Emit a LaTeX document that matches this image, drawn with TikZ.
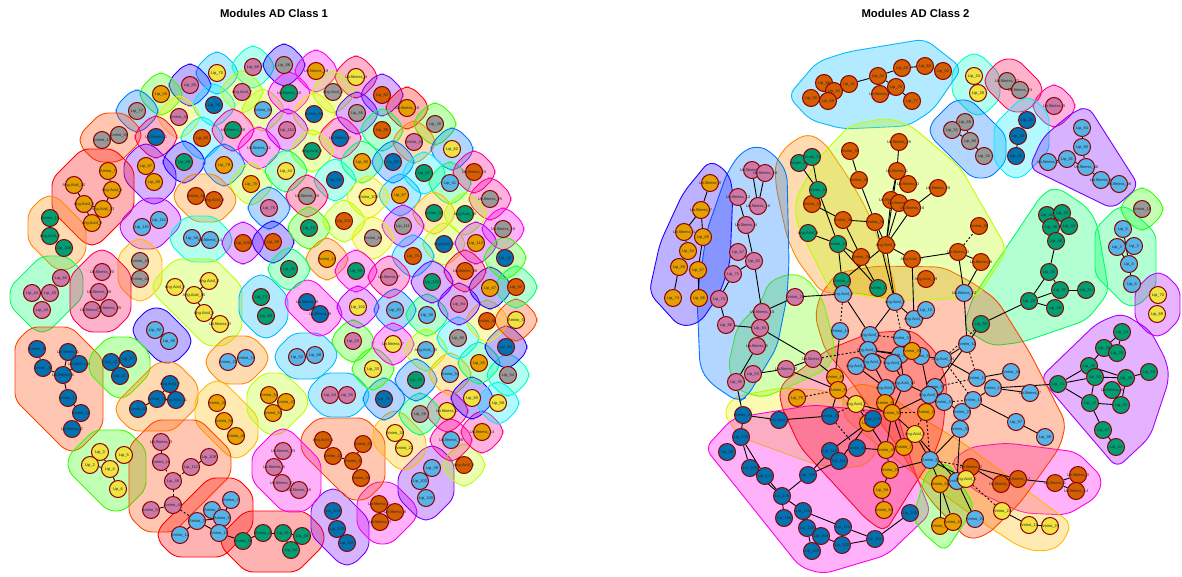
\documentclass[tikz,border=0pt]{standalone}
\usepackage{fontspec}
\setmainfont{Liberation Sans}
\definecolor{vorange}{HTML}{E69F00}
\definecolor{vsky}   {HTML}{56B4E9}
\definecolor{vgreen} {HTML}{009E73}
\definecolor{vyellow}{HTML}{F0E442}
\definecolor{vblue}  {HTML}{0072B2}
\definecolor{vverm}  {HTML}{D55E00}
\definecolor{vpink}  {HTML}{CC79A7}
\definecolor{vgrey}  {HTML}{999999}
\definecolor{vedge}  {HTML}{8B0000}
\definecolor{modred}    {HTML}{FF0000}
\definecolor{modvermil} {HTML}{FF4400}
\definecolor{modorange} {HTML}{FF8800}
\definecolor{modamber}  {HTML}{FFBB00}
\definecolor{modyellow} {HTML}{EEEE00}
\definecolor{modlime}   {HTML}{BBFF00}
\definecolor{modgreen}  {HTML}{33FF00}
\definecolor{modspring} {HTML}{00FF66}
\definecolor{modaqua}   {HTML}{00FFCC}
\definecolor{modcyan}   {HTML}{00EEFF}
\definecolor{modsky}    {HTML}{00BBFF}
\definecolor{modazure}  {HTML}{0077FF}
\definecolor{modblue}   {HTML}{2200FF}
\definecolor{modviolet} {HTML}{7700FF}
\definecolor{modpurple} {HTML}{BB00FF}
\definecolor{modmagenta}{HTML}{FF00EE}
\definecolor{modpink}   {HTML}{FF0099}
\definecolor{modrose}   {HTML}{FF0055}
\pgfdeclarelayer{blobs}
\pgfdeclarelayer{links}
\pgfsetlayers{blobs,links,main}
% nodes only, in one colour
\newcommand{\vertices}[2]{%
  \foreach \nm/\x/\y/\lab in {#2}{%
    \node[vertex,fill=#1] (\nm) at (\x,\y) {\makebox[0pt]{\lab}};
  }%
}
% nodes plus the hull round them
\newcommand{\module}[3]{%
  \xdef\xa{9999}\xdef\xb{-9999}\xdef\ya{9999}\xdef\yb{-9999}%
  \xdef\ua{9999}\xdef\ub{-9999}\xdef\va{9999}\xdef\vb{-9999}%
  \foreach \nm/\x/\y/\lab in {#3}{%
    \node[vertex,fill=#2] (\nm) at (\x,\y) {\makebox[0pt]{\lab}};
    \pgfmathparse{min(\xa,\x)}\xdef\xa{\pgfmathresult}%
    \pgfmathparse{max(\xb,\x)}\xdef\xb{\pgfmathresult}%
    \pgfmathparse{min(\ya,\y)}\xdef\ya{\pgfmathresult}%
    \pgfmathparse{max(\yb,\y)}\xdef\yb{\pgfmathresult}%
    \pgfmathparse{min(\ua,\x+\y)}\xdef\ua{\pgfmathresult}%
    \pgfmathparse{max(\ub,\x+\y)}\xdef\ub{\pgfmathresult}%
    \pgfmathparse{min(\va,\x-\y)}\xdef\va{\pgfmathresult}%
    \pgfmathparse{max(\vb,\x-\y)}\xdef\vb{\pgfmathresult}%
  }%
  \pgfmathsetmacro\hexp{\ub-\ua>0 ? 22 : 21}%
  \pgfmathsetmacro\dexp{\ub-\ua>0 ? 28 : 26}%
  \pgfmathsetmacro\xl{\xa-\hexp}\pgfmathsetmacro\xr{\xb+\hexp}%
  \pgfmathsetmacro\yt{\ya-\hexp}\pgfmathsetmacro\yd{\yb+\hexp}%
  \pgfmathsetmacro\uu{\ua-\dexp}\pgfmathsetmacro\ud{\ub+\dexp}%
  \pgfmathsetmacro\vl{\va-\dexp}\pgfmathsetmacro\vr{\vb+\dexp}%
  \begin{pgfonlayer}{blobs}
    \draw[blob=#1] ({\xl},{\uu-\xl}) -- ({\uu-\yt},{\yt}) -- ({\vr+\yt},{\yt})
      -- ({\xr},{\xr-\vr}) -- ({\xr},{\ud-\xr}) -- ({\ud-\yd},{\yd})
      -- ({\vl+\yd},{\yd}) -- ({\xl},{\xl-\vl}) -- cycle;
  \end{pgfonlayer}%
}
\newcommand{\shape}[2]{%
  \begin{pgfonlayer}{blobs}
    \draw[blob=#1,rounded corners=9pt] #2 -- cycle;
  \end{pgfonlayer}%
}

\begin{document}
\begin{tikzpicture}[
  x=1pt,y=-1pt,
  vertex/.style={circle,draw=vedge,line width=1pt,minimum size=17pt,inner sep=0pt,
    font=\fontsize{4}{4}\selectfont,text=black!85},
  blob/.style={draw=#1,fill=#1,fill opacity=.3,line width=.9pt,rounded corners=7pt},
  link/.style={line width=.9pt,black},
  dlink/.style={line width=.9pt,black,dash pattern=on 2pt off 2pt},
  heading/.style={font=\fontsize{11.3}{13}\selectfont\bfseries}
]
\useasboundingbox (0,0) rectangle (1182,576);

% ---- titles --------------------------------------------------------------
\node[heading] (titleone) at (274,13) {Modules AD Class 1};
\node[heading] (titletwo) at (915.5,13) {Modules AD Class 2};

% ---- class 1: modules ----------------------------------------------------
\module{modsky}{vyellow}{l1/217/73/Lip\_70}
\module{modaqua}{vpink}{l2/253/67/Lip\_68}
\module{modblue}{vpink}{l3/190/85/Lip\_65}
\module{modgreen}{vorange}{l4/161/94/Lip\_26}
\module{modcyan}{vblue}{l5/214/105/Lip\_58}
\module{modlime}{vpink}{l6/242/92/Ang.Acid\_7}
\module{modlime}{vsky}{l7/263/110/Amino\_50}
\module{modazure}{vgrey}{l8/137/111/Lip\_77}
\module{modyellow}{vpink}{l9/179/117/Amino\_41}
\module{modvermil}{vgrey}{l10/119/135/Amino\_65,l11/102/140/Amino\_10}
\module{modrose}{vblue}{l12/156/137/Un.fitness\_1}
\module{modcyan}{vverm}{l13/202/138/Lip\_60}
\module{modpink}{vgreen}{l14/233/130/Un.fitness\_28}
\module{modmagenta}{vsky}{l15/259/148/Un.fitness\_11}
\module{modviolet}{vorange}{l16/146/166/Lip\_87,l17/154/182/Lip\_88}
\module{modblue}{vgreen}{l18/184/162/Lip\_89}
\module{modazure}{vorange}{l19/224/165/Lip\_79}
\module{modlime}{vorange}{l20/251/184/Lip\_78}
\module{modazure}{vpink}{l21/269/208/Lip\_76}
\module{modorange}{vverm}{l22/196/196/Amino\_36,l23/214/200/Ang.Acid\_3}
\module{modred}{vorange}{l24/108/171/Amino\_7,l25/74/185/Ang.Acid\_10,l26/112/190/Ang.Acid\_1,l27/84/204/Ang.Acid\_6,l28/103/209/Ang.Acid\_13,l29/92/223/Ang.Acid\_8}
\module{modorange}{vgreen}{l30/50/218/Amino\_15,l31/50/236/Ang.Acid\_2,l32/64/248/Lip\_106}
\module{modpurple}{vsky}{l33/142/227/Lip\_115,l34/159/220/Lip\_114}
\module{modaqua}{vsky}{l35/192/238/Lip\_56,l36/210/240/Un.fitness\_14}
\module{modpurple}{vverm}{l37/243/243/Lip\_108}
\module{modblue}{vverm}{l38/273/242/Lip\_86}
\module{modamber}{vgrey}{l39/140/261/Amino\_48,l40/140/279/Amino\_42}
\module{modspring}{vpink}{l41/61/278/Lip\_84,l42/32/293/Lip\_44,l43/50/293/Lip\_45,l44/42/310/Lip\_42}
\module{modrose}{vpink}{l45/102/272/Un.fitness\_20,l46/99/292/Un.fitness\_38,l47/92/310/Un.fitness\_30,l48/109/308/Un.fitness\_35}
\module{modlime}{vyellow}{l49/175/287/Ang.Acid\_2,l50/209/281/Ang.Acid\_4,l51/194/295/Ang.Acid\_15,l52/204/313/Ang.Acid\_1,l53/220/324/Un.fitness\_3}
\module{modsky}{vgreen}{l54/261/297/Lip\_73,l55/266/316/Lip\_69}
\module{modblue}{vsky}{l56/155/330/Lip\_92,l57/169/341/Lip\_90}
\module{modorange}{vsky}{l58/228/362/Amino\_20,l59/246/358/Amino\_15}
\module{modvermil}{vblue}{l60/37/349/Amino\_9,l61/43/368/Amino\_26,l62/68/352/Un.fitness\_1,l63/79/364/Un.fitness\_4,l64/63/375/Un.fitness\_6,l65/68/398/Amino\_17,l66/81/413/Amino\_19,l67/72/429/Un.fitness\_2}
\module{modgreen}{vblue}{l68/111/362/Lip\_20,l69/128/359/Lip\_27,l70/120/376/Lip\_21}
\module{modorange}{vblue}{l71/170/384/Ang.Acid\_7,l72/157/399/Amino\_14,l73/176/400/Ang.Acid\_11,l74/138/409/Amino\_43}
\module{modamber}{vorange}{l75/217/403/Amino\_30,l76/224/421/Amino\_56,l77/236/436/Amino\_40}
\module{modlime}{vorange}{l78/269/395/Amino\_53,l79/286/402/Amino\_47,l80/273/413/Amino\_52}
\module{modgreen}{vyellow}{l81/100/452/Lip\_3,l82/124/455/Lip\_5,l83/90/465/Lip\_2,l84/110/469/Lip\_4,l85/118/489/Lip\_6}
\module{modvermil}{vpink}{l86/161/442/Un.fitness\_3,l87/161/462/Amino\_11,l88/209/457/Lip\_109,l89/191/467/Lip\_112,l90/173/481/Lip\_48,l91/173/505/Amino\_40,l92/151/510/Amino\_57}
\module{modred}{vsky}{l93/231/500/Amino\_2,l94/212/510/Amino\_1,l95/222/518/Amino\_9,l96/197/521/Amino\_3,l97/219/533/Amino\_16,l98/180/535/Amino\_12}
\module{modred}{vgreen}{l99/243/541/Amino\_38,l100/263/533/Amino\_4,l101/283/533/Lip\_61,l102/302/536/Lip\_68,l103/291/550/Lip\_62}
\module{modviolet}{vblue}{l104/333/511/Lip\_104,l105/337/529/Lip\_106,l106/347/543/Lip\_107}
\module{modmagenta}{vverm}{l107/379/504/Un.fitness\_1,l108/395/512/Un.fitness\_8,l109/380/522/Un.fitness\_3}
\module{modviolet}{vsky}{l110/432/468/Lip\_99,l111/420/481/Lip\_103,l112/426/498/Lip\_100}
\module{modlime}{vverm}{l113/464/465/Ang.Acid\_6}
\module{modvermil}{vverm}{l114/323/440/Ang.Acid\_1,l115/333/456/Amino\_21,l116/353/461/Amino\_6,l117/363/444/Amino\_63,l118/361/478/Amino\_51}
\module{modamber}{vyellow}{l119/395/433/Amino\_34,l120/404/448/Amino\_22}
\module{modmagenta}{vpink}{l121/283/451/Un.fitness\_33,l122/274/467/Un.fitness\_5,l123/282/483/Un.fitness\_31,l124/299/490/Un.fitness\_16}
\module{modpink}{vsky}{l125/451/440/Un.fitness\_26}
\module{modpink}{vorange}{l126/482/432/Un.fitness\_14}
\module{modpink}{vyellow}{l127/447/411/Un.fitness\_2}
\module{modspring}{vgrey}{l128/420/414/Lip\_56}
\module{modazure}{vblue}{l129/384/399/Lip\_71}
\module{modsky}{vpink}{l130/330/395/Lip\_54,l131/347/395/Lip\_55}
\module{modsky}{vsky}{l132/297/357/Lip\_52,l133/315/355/Lip\_68}
\module{modmagenta}{vblue}{l134/307/302/Un.fitness\_8,l135/320/314/Un.fitness\_9}
\module{modgreen}{vpink}{l136/353/341/Lip\_24}
\module{modgreen}{vyellow}{l137/373/369/Lip\_33}
\module{modpurple}{vyellow}{l138/358/307/Lip\_102}
\module{modazure}{vsky}{l139/395/310/Lip\_83}
\module{modspring}{vsky}{l140/427/315/Lip\_30}
\module{modmagenta}{vyellow}{l141/393/344/Un.fitness\_7}
\module{modlime}{vsky}{l142/426/350/Ang.Acid\_10}
\module{modazure}{vgreen}{l143/416/380/Lip\_81}
\module{modamber}{vsky}{l144/450/374/Amino\_54}
\module{modblue}{vyellow}{l145/472/398/Lip\_60}
\module{modcyan}{vyellow}{l146/498/403/Lip\_58}
\module{modspring}{vorange}{l147/479/363/Lip\_55}
\module{modaqua}{vgrey}{l148/508/375/Lip\_54}
\module{modblue}{vblue}{l149/506/347/Lip\_64}
\module{modcyan}{vgrey}{l150/458/338/Lip\_80}
\module{modyellow}{vverm}{l151/487/321/Amino\_46}
\module{modvermil}{vyellow}{l152/516/320/Amino\_5}
\module{modviolet}{vpink}{l153/459/304/Lip\_84}
\module{modblue}{vorange}{l154/490/288/Lip\_67}
\module{modspring}{vverm}{l155/516/287/Lip\_52}
\module{modblue}{vgrey}{l156/284/65/Lip\_86}
\module{modmagenta}{vorange}{l157/316/71/Un.fitness\_19}
\module{modrose}{vyellow}{l158/356/77/Un.fitness\_4}
\module{modlime}{vgrey}{l159/333/92/Ang.Acid\_1}
\module{modviolet}{vverm}{l160/382/95/Lip\_83}
\module{modred}{vorange}{l161/407/108/Un.fitness\_18}
\module{modmagenta}{vgreen}{l162/289/93/Un.fitness\_10}
\module{modyellow}{vblue}{l163/314/114/Amino\_66}
\module{modviolet}{vgrey}{l164/357/113/Lip\_66}
\module{modspring}{vverm}{l165/382/130/Lip\_95}
\module{modgreen}{vgrey}{l166/435/124/Lip\_28}
\module{modorange}{vpink}{l167/414/142/Amino\_28}
\module{modazure}{vyellow}{l168/452/149/Lip\_62}
\module{modpurple}{vpink}{l169/287/130/Lip\_110}
\module{modpink}{vblue}{l170/340/138/Un.fitness\_2}
\module{modlime}{vgreen}{l171/312/151/Ang.Acid\_2}
\module{modspring}{vorange}{l172/362/162/Lip\_90}
\module{modazure}{vblue}{l173/393/162/Lip\_82}
\module{modspring}{vyellow}{l174/286/171/Lip\_44}
\module{modaqua}{vblue}{l175/335/180/Lip\_56}
\module{modcyan}{vgreen}{l176/424/173/Lip\_57}
\module{modspring}{vsky}{l177/450/183/Lip\_41}
\module{modpink}{vverm}{l178/474/172/Un.fitness\_15}
\module{modrose}{vgrey}{l179/307/196/Un.fitness\_28}
\module{modsky}{vorange}{l180/400/195/Lip\_67}
\module{modyellow}{vyellow}{l181/368/197/Amino\_100}
\module{modpink}{vgrey}{l182/490/199/Un.fitness\_25}
\module{modamber}{vgreen}{l183/434/213/Amino\_34}
\module{modlime}{vgreen}{l184/465/214/Ang.Acid\_10}
\module{modgreen}{vgreen}{l185/309/228/Lip\_18}
\module{modlime}{vverm}{l186/344/221/Lip\_201}
\module{modpurple}{vgrey}{l187/403/226/Lip\_111}
\module{modmagenta}{vgrey}{l188/503/229/Un.fitness\_18}
\module{modyellow}{vgrey}{l189/373/238/Amino\_46}
\module{modlime}{vblue}{l190/444/244/Ang.Acid\_8}
\module{modpurple}{vorange}{l191/476/243/Lip\_112}
\module{modgreen}{vblue}{l192/505/258/Lip\_34}
\module{modorange}{vorange}{l193/327/259/Amino\_14}
\module{modsky}{vverm}{l194/413/256/Lip\_75}
\module{modrose}{vverm}{l195/465/271/Un.fitness\_36}
\module{modmagenta}{vgreen}{l196/356/271/Lip\_98}
\module{modpink}{vpink}{l197/389/277/Un.fitness\_7}
\module{modviolet}{vgreen}{l198/432/282/Lip\_123}
\module{modspring}{vgreen}{l199/289/269/Lip\_65}

% ---- class 1: links ------------------------------------------------------
\begin{pgfonlayer}{links}
\foreach \a/\b in {l25/l27,l27/l29,l27/l28,l24/l26,l26/l28,l28/l29,l60/l61,l61/l64,l62/l64,l63/l64,l64/l65,l65/l66,l66/l67,
  l81/l84,l83/l84,l84/l85,l86/l87,l88/l89,l91/l92,l93/l95,l94/l95,l96/l97,l96/l98,l96/l95,l97/l99,l99/l100,l100/l101,l101/l102,l101/l103,
  l71/l72,l72/l73,l72/l74,l114/l115,l115/l116,l116/l117,l116/l118,l50/l51,l51/l52,l52/l53,l10/l11}
  \draw[link] (\a) -- (\b);
\foreach \a/\b in {l87/l90,l89/l90,l90/l91,l91/l96}
  \draw[dlink] (\a) -- (\b);
\end{pgfonlayer}

% ---- class 2: modules with a hull ----------------------------------------
\module{modaqua}{vyellow}{u7/974/76/Lip\_24,u8/978/93/Lip\_28}
\module{modrose}{vgrey}{y1/1007/81/Un.fitness\_23,y2/1020/90/Un.fitness\_24}
\module{modpink}{vpink}{p19/1054/106/Un.fitness\_9}
\module{modazure}{vgrey}{y3/965/122/Lip\_66,y4/952/130/Lip\_51,y5/970/141/Lip\_86,y6/984/156/Lip\_52}
\module{modcyan}{vblue}{c1/1027/120/Lip\_28,c2/1018/136/Lip\_30,c3/1016/156/Lip\_31}
\module{modgreen}{vgrey}{y7/1142/209/Amino\_18}
\module{modspring}{vsky}{k1/1123/229/Lip\_5,k2/1117/247/Lip\_3,k3/1134/246/Lip\_2,k4/1129/264/Lip\_4,k5/1132/284/Lip\_6}
\module{modpurple}{vyellow}{u9/1158/295/Lip\_70,u10/1157/314/Lip\_69}

% ---- class 2: drawn hulls -------------------------------------------------
\shape{modsky}{(788,96) -- (817,62) -- (847,52) -- (925,39) -- (962,68) -- (933,110) -- (908,126) -- (843,129) -- (810,120)}
\shape{modviolet}{(1088,106) -- (1139,186) -- (1113,209) -- (1029,168) -- (1043,137) -- (1073,112)}
\shape{modspring}{(1057,187) -- (1087,207) -- (1097,223) -- (1109,292) -- (1087,320) -- (1023,342) -- (992,346) -- (963,328) -- (973,297) -- (1043,193)}
\shape{modpurple!70!modviolet}{(1122,313) -- (1150,330) -- (1167,362) -- (1169,380) -- (1150,437) -- (1117,468) -- (1040,378) -- (1097,323)}
\shape{modmagenta}{(970,447) -- (1007,443) -- (1077,452) -- (1103,478) -- (1097,497) -- (1067,515) -- (1023,513) -- (973,490) -- (950,462)}
\shape{modamber}{(857,383) -- (877,387) -- (920,417) -- (963,443) -- (1072,524) -- (1060,547) -- (1040,552) -- (1020,547) -- (983,523) -- (900,463) -- (843,417) -- (843,393)}
\shape{modyellow}{(723,413) -- (733,397) -- (780,388) -- (823,390) -- (850,403) -- (878,447) -- (870,463) -- (853,468) -- (817,465) -- (740,437)}
\shape{modmagenta}{(705,448) -- (733,418) -- (813,405) -- (897,413) -- (913,467) -- (931,513) -- (887,555) -- (823,574) -- (800,567)}
\shape{modrose!60!modred}{(780,385) -- (827,350) -- (870,333) -- (913,330) -- (937,353) -- (947,383) -- (943,430) -- (933,457) -- (913,487) -- (885,532) -- (867,520) -- (800,447) -- (780,403)}
\shape{modvermil}{(815,317) -- (820,295) -- (837,273) -- (877,266) -- (943,267) -- (973,283) -- (997,300) -- (1030,353) -- (1066,423) -- (1060,447) -- (1020,503) -- (987,535) -- (968,540) -- (930,500) -- (900,450) -- (850,380) -- (825,350)}
\shape{modorange}{(808,133) -- (825,143) -- (850,180) -- (867,210) -- (893,277) -- (897,300) -- (857,293) -- (822,293) -- (797,260) -- (787,237) -- (776,187) -- (775,163) -- (787,145)}
\shape{modlime}{(795,200) -- (817,160) -- (850,125) -- (887,118) -- (910,125) -- (960,167) -- (1006,247) -- (1003,257) -- (977,297) -- (930,300) -- (893,300) -- (830,290) -- (810,250) -- (797,225)}
\shape{modgreen!60!modlime}{(790,273) -- (807,278) -- (823,300) -- (835,347) -- (830,367) -- (800,382) -- (763,398) -- (737,390) -- (728,367) -- (737,327) -- (763,300) -- (767,283)}
\shape{modazure}{(757,145) -- (773,153) -- (787,172) -- (789,263) -- (787,297) -- (777,347) -- (747,397) -- (738,402) -- (710,383) -- (700,368) -- (697,297) -- (707,230) -- (727,173) -- (740,153)}
\shape{modblue}{(710,160) -- (728,172) -- (733,190) -- (730,263) -- (720,293) -- (700,323) -- (680,327) -- (649,293) -- (660,243) -- (683,193)}
\shape{modgreen}{(948,462) -- (975,507) -- (945,552) -- (920,530) -- (913,517) -- (927,470)}

% ---- class 2: nodes ------------------------------------------------------
\vertices{vverm}{t1/824/83/Lip\_55,t2/834/91/Lip\_42,t3/811/98/Lip\_58,t4/828/101/Lip\_69,t5/849/84/Lip\_41,t6/878/76/Lip\_54,t7/902/68/Lip\_63,t8/896/87/Lip\_76,t9/880/94/Un.fitness\_8,t10/912/101/Lip\_77,t11/925/66/Lip\_60,t12/943/71/Lip\_62,
  m1/850/151/Amino\_37,m2/859/180/Amino\_40,m3/843/220/Amino\_36,m4/875/222/Amino\_26,m5/861/257/Amino\_38,m6/812/204/Amino\_34,m7/899/142/Un.fitness\_26,m8/897/171/Un.fitness\_1,m9/908/184/Un.fitness\_3,m10/891/200/Un.fitness\_14,m11/899/203/Un.fitness\_5,m12/912/208/Un.fitness\_16,m13/938/188/Un.fitness\_28,m14/886/245/Ang.Acid\_1,m15/912/259/Ang.Acid\_17,m16/926/279/Ang.Acid\_19,m17/979/226/Amino\_48,m18/958/252/Un.fitness\_3,m19/981/262/Un.fitness\_8,
  n1/971/467/Un.fitness\_2,n2/1001/484/Un.fitness\_10,n3/1018/479/Un.fitness\_17,n4/1055/483/Un.fitness\_1,n5/1078/475/Un.fitness\_3,n6/1076/491/Un.fitness\_14}
\vertices{vgreen}{g1/799/163/Amino\_52,g2/812/157/Amino\_54,g3/818/190/Amino\_44,g4/808/233/Ang.Acid\_9,g5/838/244/Amino\_18,g6/842/281/Amino\_2,g7/878/288/Amino\_1,
  h1/1047/215/Lip\_42,h2/1062/213/Lip\_43,h3/1051/227/Lip\_38,h4/1069/226/Lip\_34,h5/1056/241/Lip\_40,h6/1049/272/Lip\_36,h7/1060/290/Lip\_27,h8/1086/290/Lip\_21,h9/1029/301/Lip\_26,h10/1055/308/Lip\_20,h11/981/324/Lip\_59,
  j1/1122/332/Lip\_34,j2/1104/348/Lip\_36,j3/1117/353/Lip\_35,j4/1089/366/Lip\_40,j5/1095/377/Lip\_53,j6/1126/378/Lip\_56,j7/1149/372/Lip\_50,j8/1058/384/Lip\_41,j9/1112/390/Un.fitness\_8,j10/1090/403/Lip\_42,j11/1121/405/Lip\_48,j12/1103/430/Lip\_47,j13/1116/447/Lip\_44}
\vertices{vsky}{s1/843/294/Ang.Acid\_4,s2/840/331/Amino\_10,s3/870/335/Ang.Acid\_1,s4/895/302/Ang.Acid\_4,s5/914/319/Ang.Acid\_5,s6/926/310/Lip\_10,s7/902/338/Amino\_37,s8/868/350/Ang.Acid\_11,s9/900/355/Lip\_2,s10/893/363/Ang.Acid\_2,s11/872/362/Ang.Acid\_8,s12/856/366/Ang.Acid\_7,s13/921/356/Amino\_8,s14/943/359/Ang.Acid\_14,s15/886/388/Ang.Acid\_9,s16/904/383/Ang.Acid\_12,s17/935/387/Amino\_9,s18/929/395/Ang.Acid\_3,s19/944/402/Amino\_33,s20/962/412/Amino\_20,s21/960/429/Amino\_31,s22/930/460/Amino\_6,s23/957/481/Amino\_25,s24/975/519/Amino\_24,s25/967/344/Amino\_52,s26/964/293/Un.fitness\_22,s27/977/378/Amino\_14,s28/1011/372/Amino\_46,s29/993/388/Amino\_11,s30/973/400/Amino\_16,s31/1030/393/Un.fitness\_7,s32/1016/422/Lip\_97,s33/1045/437/Lip\_98,
  a1/1082/128/Lip\_84,a2/1082/147/Lip\_85,a3/1067/159/Lip\_81,a4/1048/162/Un.fitness\_1,a5/1086/167/Un.fitness\_46,a6/1101/180/Un.fitness\_6,a7/1119/184/Un.fitness\_36}
\vertices{vorange}{o1/835/377/Amino\_49,o2/838/390/Amino\_8,o3/797/398/Lip\_75,o4/885/403/Amino\_5,o5/892/413/Amino\_55,o6/926/412/Amino\_3,o7/904/447/Amino\_7,o8/886/450/Amino\_45,o9/890/470/Amino\_28,o10/882/490/Lip\_94,o11/884/510/Amino\_61,o12/868/423/Lip\_85,o13/940/484/Amino\_50,o14/940/526/Amino\_58,o15/953/522/Amino\_47,o16/912/351/Amino\_30,
  q1/710/183/Un.fitness\_9,q2/701/210/Un.fitness\_7,q3/684/232/Un.fitness\_4,q4/703/237/Lip\_65,q5/688/251/Lip\_54,q6/679/267/Lip\_68,q7/698/270/Lip\_67,q8/673/298/Lip\_74,q9/699/298/Lip\_66}
\vertices{vyellow}{u1/856/404/Ang.Acid\_2,u2/915/434/Ang.Acid\_3,u3/966/479/Ang.Acid\_5,u4/1002/511/Amino\_24,u5/1029/525/Amino\_10,u6/1050/526/Amino\_20}
\vertices{vblue}{b1/743/415/Amino\_27,b2/741/437/Lip\_100,b3/727/452/Lip\_99,b4/750/468/Lip\_108,b5/765/476/Lip\_112,b6/779/420/Ang.Acid\_6,b7/830/416/Amino\_29,b8/830/451/Lip\_110,b9/839/461/Lip\_111,b10/857/448/Amino\_41,b11/808/475/Lip\_109,b12/782/496/Lip\_106,b13/784/518/Lip\_116,b14/803/511/Lip\_113,b15/807/528/Lip\_123,b16/821/536/Lip\_104,b17/812/551/Lip\_103,b18/842/545/Lip\_102,b19/843/527/Lip\_114,b20/875/539/Lip\_101,b21/910/513/Lip\_105,b22/873/419/Lip\_115}
\vertices{vpink}{p1/752/170/Un.fitness\_15,p2/765/173/Un.fitness\_18,p3/738/197/Un.fitness\_12,p4/758/206/Un.fitness\_16,p5/746/225/Un.fitness\_4,p6/738/252/Lip\_67,p7/754/261/Lip\_52,p8/733/274/Lip\_71,p9/719/299/Lip\_73,p10/726/325/Lip\_96,p11/762/312/Un.fitness\_18,p12/760/328/Lip\_84,p13/757/346/Un.fitness\_5,p14/753/374/Lip\_53,p15/736/382/Lip\_95,p16/786/369/Un.fitness\_3,p17/813/359/Un.fitness\_7,p18/795/297/Amino\_26}

% ---- class 2: links ------------------------------------------------------
\begin{pgfonlayer}{links}
\foreach \a/\b in {t1/t2,t2/t5,t3/t4,t4/t2,t5/t6,t6/t7,t7/t11,t11/t12,t6/t8,t8/t10,t9/t6,t9/t8,
  y1/y2,y3/y5,y4/y5,y5/y6,c1/c2,c2/c3,u7/u8,a1/a2,a2/a5,a3/a4,a3/a5,a5/a6,a6/a7,k1/k4,k2/k4,k3/k4,k4/k5,
  h1/h3,h2/h4,h3/h5,h5/h6,h6/h7,h6/h9,h7/h8,h7/h9,h9/h10,h9/h11,h11/s25,
  j8/j4,j8/j5,j8/j10,j4/j5,j4/j2,j2/j1,j2/j3,j3/j1,j4/j6,j5/j6,j6/j7,j6/j11,j5/j10,j10/j11,j10/j12,j12/j13,j9/j11,j8/s29,
  n1/n2,n1/n3,n3/n4,n4/n5,n4/n6,u4/u5,u5/u6,
  m1/m2,m2/m4,m3/m4,m3/m5,m6/m3,m7/m8,m8/m9,m8/m10,m8/m14,m10/m14,m11/m14,m12/m14,m14/m4,m14/m15,m15/m18,m18/m19,m18/s26,m19/s26,m12/m13,m15/s5,
  g1/g3,g2/g3,g3/g5,g4/g5,g5/g6,g5/g7,g5/m5,m5/g7,m14/g6,m14/s4,m4/s4,g3/m6,
  q1/q2,q2/q3,q2/q4,q3/q5,q4/q7,q5/q6,q6/q8,q7/q9,
  p1/p4,p2/p4,p3/p5,p5/p7,p6/p7,p7/p8,p8/p9,p9/p10,p10/p12,p11/p12,p11/p18,p12/p13,p13/p15,p14/p16,p16/p17,p12/p17,p15/b1,p7/p11,p18/s1,
  s1/s3,s2/o1,s3/s4,s5/s4,s5/s6,s3/s8,s8/s13,s8/s10,s8/s9,s9/s13,s14/s13,s25/s14,s25/s26,s25/s18,
  s11/s15,s12/s15,s10/s16,s9/s16,s13/s18,s16/s18,s16/o5,s15/o4,s18/o5,s17/s19,s18/s19,s19/s20,s20/s21,s21/s22,s21/s23,s22/o13,s22/u3,s23/s24,
  o13/o14,o13/o15,s27/s28,s27/s29,s29/s31,s29/s30,s30/s32,s32/s33,s14/s27,
  p16/o2,p17/o1,o1/o2,o2/u1,o2/b7,u1/o8,u1/o5,o8/o5,o7/o5,o4/o5,o8/o9,o9/s22,o10/o9,o11/o10,u2/o5,u2/s22,u2/s23,
  b1/b6,b6/b7,b1/b2,b2/b4,b2/b5,b4/b5,b5/b12,b4/b12,b12/b11,b12/b13,b12/b14,b14/b19,b14/b15,b15/b17,b15/b16,b16/b18,b18/b20,b19/b20,b20/b21,b11/b8,b11/b9,b8/b22,b9/o12,b10/o8}
  \draw[link] (\a) -- (\b);
\foreach \a/\b in {m18/m17,s1/s2,o3/o2,s17/s27,s4/s7,s3/s7,p17/s8,s14/h11,s25/s27,s14/s30,s19/s30,b7/u1,b7/b10,u1/b22,o5/o6,o6/s22,o6/o7,u3/u4,n1/s22,s5/s9}
  \draw[dlink] (\a) -- (\b);
\end{pgfonlayer}
\end{tikzpicture}
\end{document}
